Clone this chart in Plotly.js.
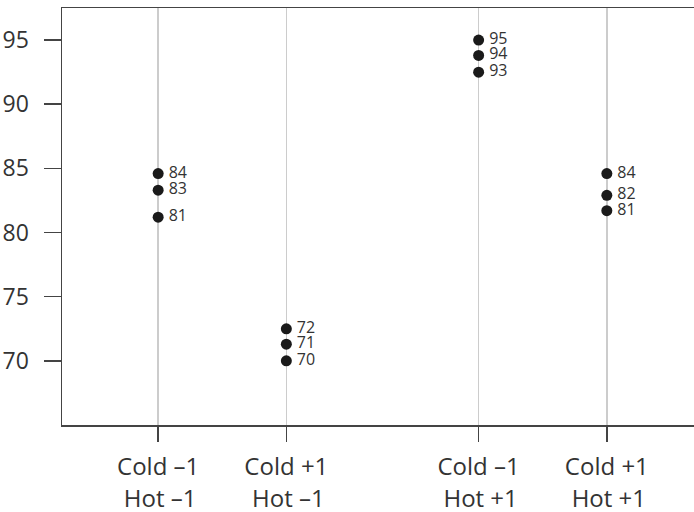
<!DOCTYPE html>
<html>
<head>
<meta charset="utf-8">
<script src="https://cdn.plot.ly/plotly-3.0.1.min.js"></script>
<style>html,body{margin:0;padding:0;background:#fff;}#chart{width:694px;height:512px;}</style>
</head>
<body>
<div id="chart"></div>
<script>
// Tick positions and labels for the four factor combinations
const positions = [1, 2, 3.5, 4.5];
const tickLabels = ["Cold \u20131<br>\u2009Hot \u20131", "Cold +1<br>\u2009Hot \u20131", "Cold \u20131<br>\u2009Hot +1", "Cold +1<br>\u2009Hot +1"];

const coldMinusHotMinus = [84.6, 83.3, 81.2];
const coldPlusHotMinus  = [72.5, 71.3, 70.0];
const coldMinusHotPlus  = [95.0, 93.8, 92.5];
const coldPlusHotPlus   = [84.6, 82.9, 81.7];

const labelsCMHM = ["84", "83", "81"];
const labelsCPHM = ["72", "71", "70"];
const labelsCMHP = ["95", "94", "93"];
const labelsCPHP = ["84", "82", "81"];

const groups = [coldMinusHotMinus, coldPlusHotMinus, coldMinusHotPlus, coldPlusHotPlus];
const groupLabels = [labelsCMHM, labelsCPHM, labelsCMHP, labelsCPHP];

const xs = [], ys = [], ts = [];
groups.forEach((g, i) => {
  g.forEach((v, j) => { xs.push(positions[i]); ys.push(v); ts.push(groupLabels[i][j]); });
});

const trace = {
  type: "scatter",
  mode: "markers+text",
  x: xs, y: ys, text: ts,
  texttemplate: "\u2009%{text}",
  textposition: "middle right",
  textfont: {family: "Open Sans, sans-serif", size: 16, color: "#333"},
  marker: {color: "#1a1a1a", size: 11},
  hoverinfo: "none",
  cliponaxis: false
};

const layout = {
  width: 694, height: 512,
  margin: {l: 62, r: 0, t: 8, b: 87},
  paper_bgcolor: "#fff", plot_bgcolor: "#fff",
  showlegend: false,
  font: {family: "Open Sans, sans-serif", color: "#333"},
  xaxis: {
    range: [0.25, 5.18],
    tickmode: "array", tickvals: positions, ticktext: tickLabels,
    ticks: "outside", ticklen: 15, tickwidth: 1.5, tickcolor: "#444",
    showline: true, linecolor: "#444", linewidth: 1.5, mirror: true,
    showgrid: true, gridcolor: "#cccccc", gridwidth: 1.5,
    zeroline: false,
    tickfont: {family: "Open Sans, sans-serif", size: 24, color: "#333"},
    ticklabelstandoff: 5
  },
  yaxis: {
    range: [65, 97.5],
    tickmode: "array", tickvals: [70, 75, 80, 85, 90, 95],
    ticks: "outside", ticklen: 17, tickwidth: 1.5, tickcolor: "#444",
    showline: true, linecolor: "#444", linewidth: 1.5, mirror: false,
    showgrid: false, zeroline: false,
    tickfont: {family: "Open Sans, sans-serif", size: 23, color: "#333"},
    ticklabelstandoff: 10
  }
};

Plotly.newPlot("chart", [trace], layout, {displayModeBar: false, staticPlot: true});
</script>
</body>
</html>
